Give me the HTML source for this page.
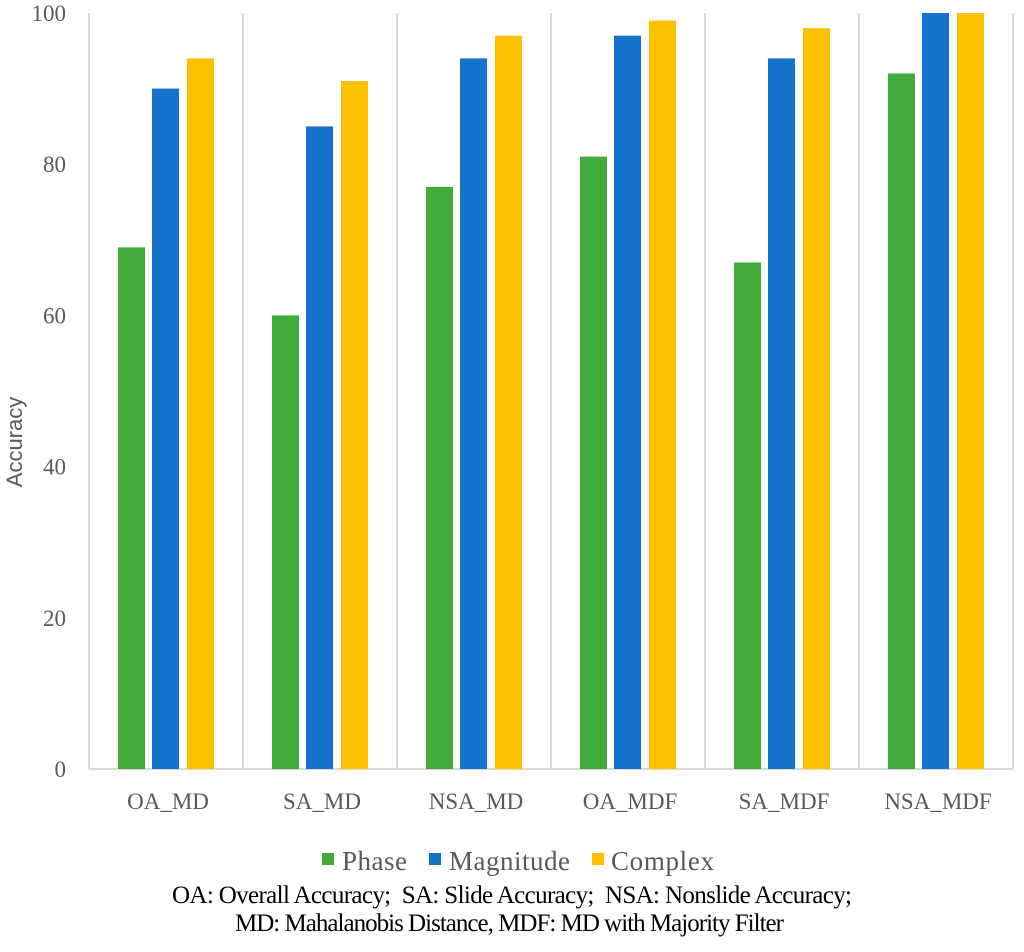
<!DOCTYPE html>
<html><head><meta charset="utf-8"><style>
body{margin:0;background:#fff;}
svg{display:block;font-family:"Liberation Serif",serif;}
.pre{white-space:pre;}
</style></head><body>
<svg id="chart" width="1024" height="952">
<g id="grid"></g>
<g id="bars"></g>
<g id="yticks"></g>
<g id="xticks"></g>
<text x="22" y="442" transform="rotate(-90 22 442)" text-anchor="middle" font-family="Liberation Sans, sans-serif" font-size="22" fill="#595959">Accuracy</text>
<g>
<g><rect x="322" y="853" width="12" height="12" fill="#43ab3c"/><text x="342" y="870" font-size="27" fill="#595959" textLength="65">Phase</text></g>
<g><rect x="429" y="853" width="12" height="12" fill="#1673cb"/><text x="449" y="870" font-size="27" fill="#595959" textLength="121">Magnitude</text></g>
<g><rect x="592" y="853" width="12" height="12" fill="#ffc000"/><text x="611" y="870" font-size="27" fill="#595959" textLength="103">Complex</text></g>
</g>
<text class="pre" x="172" y="903" font-size="25" fill="#000" textLength="680">OA: Overall Accuracy;  SA: Slide Accuracy;  NSA: Nonslide Accuracy;</text>
<text class="pre" x="235" y="931" font-size="25" fill="#000" textLength="549">MD: Mahalanobis Distance, MDF: MD with Majority Filter</text>
</svg>
<script>
const categories=["OA_MD","SA_MD","NSA_MD","OA_MDF","SA_MDF","NSA_MDF"];
const phase=[69,60,77,81,67,92];
const magnitude=[90,85,94,97,94,100];
const complex=[94,91,97,99,98,100];
const yTicks=[0,20,40,60,80,100];
const NS="http://www.w3.org/2000/svg";
const x0=89,catW=154,y0=769,y100=13;
const y=v=>y0-(y0-y100)*v/100;
function mk(tag,attrs,parent){const e=document.createElementNS(NS,tag);for(const k in attrs)e.setAttribute(k,attrs[k]);parent.appendChild(e);return e;}
const grid=document.getElementById('grid'),bars=document.getElementById('bars'),yt=document.getElementById('yticks'),xt=document.getElementById('xticks');
for(let i=0;i<=categories.length;i++){
  const l=mk('line',{x1:x0+i*catW,x2:x0+i*catW,y1:y100,y2:y0,stroke:'#d9d9d9','stroke-width':2},grid);
  
  
}
const ax=mk('line',{x1:x0,x2:x0+catW*categories.length,y1:y0,y2:y0,stroke:'#d9d9d9','stroke-width':2},grid);


yTicks.forEach(t=>{
  const e=mk('text',{x:66,y:y(t)+8,'text-anchor':'end','font-size':23,fill:'#595959'},yt);
  e.textContent=t;
  
  
});
const series=[[phase,'#43ab3c',29],[magnitude,'#1673cb',63],[complex,'#ffc000',98]];
categories.forEach((c,i)=>{
  series.forEach(([arr,col,off],s)=>{
    const r=mk('rect',{x:x0+i*catW+off,y:y(arr[i]),width:27,height:y0-y(arr[i]),fill:col},bars);
    
    
  });
  const t=mk('text',{x:x0+i*catW+catW/2+2,y:809,'text-anchor':'middle','font-size':23,fill:'#595959'},xt);
  t.textContent=c;
  
  
});
</script>
</body></html>
